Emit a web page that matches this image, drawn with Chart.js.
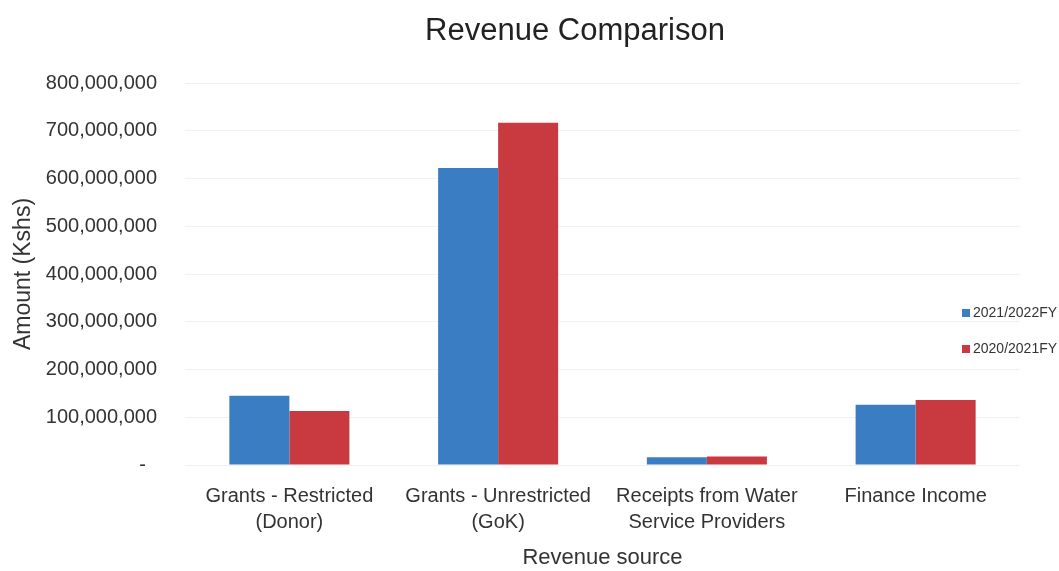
<!DOCTYPE html>
<html>
<head>
<meta charset="utf-8">
<script src="https://cdn.jsdelivr.net/npm/chart.js@4.4.0/dist/chart.umd.min.js"></script>
<style>
  html, body { margin: 0; padding: 0; background: #fff; }
  #wrap { width: 1059px; height: 571px; position: relative; }
</style>
</head>
<body>
<div id="wrap"><canvas id="revenueChart"></canvas></div>
<script>
const categories = [
    ['Grants - Restricted', '(Donor)'],
    ['Grants - Unrestricted', '(GoK)'],
    ['Receipts from Water', 'Service Providers'],
    'Finance Income'
];
const fy2122 = [145000000, 622000000, 16000000, 126000000];
const fy2021 = [113000000, 717000000, 18000000, 136000000];
const seriesLabels = ['2021/2022FY', '2020/2021FY'];
const seriesColors = ['#3B7DC3', '#C83A40'];
const chartTitle = 'Revenue Comparison';

const FONT = '"Liberation Sans", Arial, sans-serif';

// title and legend are drawn by hand so they can sit where the original has them
const overlay = {
    id: 'overlay',
    afterDraw(chart) {
        const ctx = chart.ctx;
        ctx.save();
        ctx.fillStyle = '#222';
        ctx.font = '31px ' + FONT;
        ctx.textAlign = 'center';
        ctx.textBaseline = 'middle';
        ctx.fillText(chartTitle, 575, 31);

        ctx.font = '14px ' + FONT;
        ctx.textAlign = 'left';
        chart.data.datasets.forEach((ds, i) => {
            const y = 313 + i * 36;
            ctx.fillStyle = ds.backgroundColor;
            ctx.fillRect(962, y - 4, 8, 8);
            ctx.fillStyle = '#333';
            ctx.fillText(ds.label, 973, y);
        });
        ctx.restore();
    }
};

const ctx = document.getElementById('revenueChart').getContext('2d');
new Chart(ctx, {
    type: 'bar',
    data: {
        labels: categories,
        datasets: [
            { label: seriesLabels[0], data: fy2122, backgroundColor: seriesColors[0] },
            { label: seriesLabels[1], data: fy2021, backgroundColor: seriesColors[1] }
        ]
    },
    options: {
        responsive: true,
        maintainAspectRatio: false,
        animation: false,
        categoryPercentage: 0.575,
        barPercentage: 1.0,
        layout: { padding: { left: 10, right: 39, top: 83, bottom: 0 } },
        plugins: {
            legend: { display: false },
            tooltip: { enabled: false },
            title: { display: false }
        },
        scales: {
            x: {
                grid: { display: false },
                border: { display: false },
                afterFit: s => { s.height = 106; },
                ticks: {
                    color: '#333',
                    font: { family: FONT, size: 20, lineHeight: 1.3 },
                    padding: 10,
                    maxRotation: 0,
                    autoSkip: false
                },
                title: {
                    display: true,
                    text: 'Revenue source',
                    color: '#333',
                    font: { family: FONT, size: 22 },
                    padding: { top: 4, bottom: 0 }
                }
            },
            y: {
                min: 0,
                max: 800000000,
                afterFit: s => { s.width = 175; },
                grid: { color: '#f1f1f1', drawTicks: false },
                border: { display: false },
                ticks: {
                    stepSize: 100000000,
                    color: '#333',
                    font: { family: FONT, size: 20 },
                    padding: 28,
                    callback: v => v === 0 ? '-  ' : v.toLocaleString('en-US')
                },
                title: {
                    display: true,
                    text: 'Amount (Kshs)',
                    color: '#333',
                    font: { family: FONT, size: 23 },
                    padding: { top: 0, bottom: 6 }
                }
            }
        }
    },
    plugins: [overlay]
});
</script>
</body>
</html>
